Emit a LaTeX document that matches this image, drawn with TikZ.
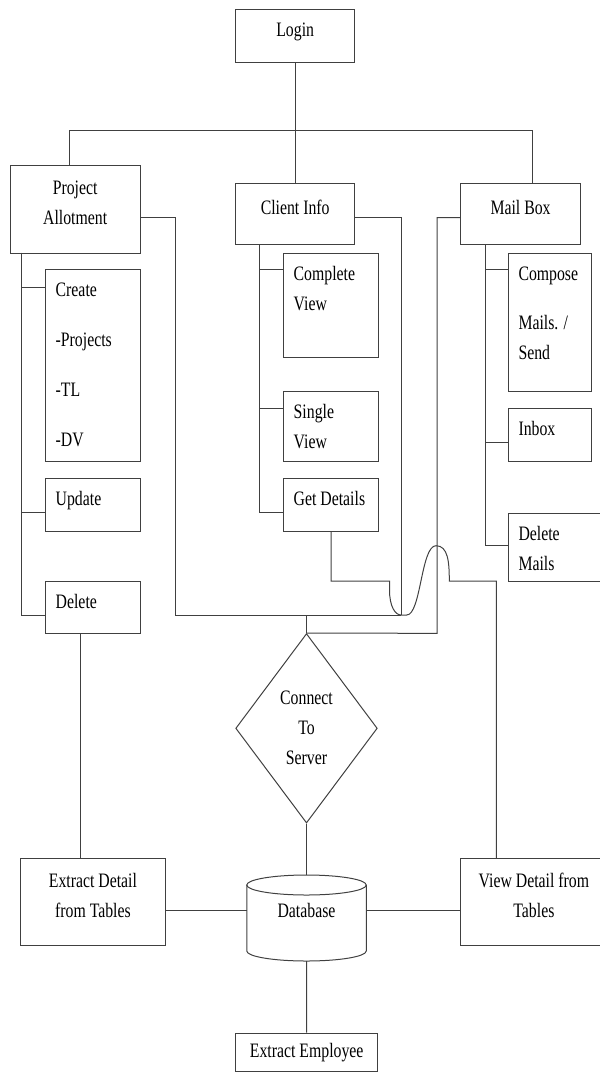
\documentclass[tikz,border=0pt]{standalone}
\usepackage{fontspec}
\setmainfont{Liberation Serif}[FakeStretch=0.77]
\usetikzlibrary{shapes.geometric}
\newcommand{\subtxt}[3]{\parbox[c][#1][t]{#2}{\raggedright\rule{0pt}{27pt}#3}}
\begin{document}
\begin{tikzpicture}[x=1pt,y=-1pt,
  font=\fontsize{20.5pt}{30pt}\selectfont,
  ln/.style={draw=black!75,line width=1pt},
  cbase/.style={ln,rectangle,inner sep=0pt,align=center,anchor=north west},
  cbox/.style={cbase,text depth=13pt},
  sbox/.style={ln,rectangle,inner xsep=10pt,inner ysep=0pt,anchor=north west},
  dec/.style={ln,diamond,aspect=0.75,inner sep=0pt,align=center}]
\useasboundingbox (0,0) rectangle (600,1072);
\clip (0,0) rectangle (600,1072);

% main boxes
\node[cbox,minimum width=118.6pt,minimum height=52.4pt] (login) at (235.4,9.3) {Login};
\node[cbox,minimum width=130.1pt,minimum height=87.7pt] (pa) at (9.6,165) {Project\\Allotment};
\node[cbox,minimum width=118.6pt,minimum height=61.6pt] (ci) at (235.4,182.7) {Client Info};
\node[cbox,minimum width=119.4pt,minimum height=61.6pt] (mb) at (460.4,182.7) {Mail Box};

% sub boxes
\node[sbox] (create) at (45.2,269.3) {\subtxt{191.4pt}{74.5pt}{Create\\[20pt]-Projects\\[20pt]-TL\\[20pt]-DV}};
\node[sbox] (update) at (45.2,478.3) {\subtxt{52.4pt}{74.5pt}{Update}};
\node[sbox] (del) at (45.2,581) {\subtxt{52.3pt}{74.5pt}{Delete}};
\node[sbox] (cv) at (283.2,252.7) {\subtxt{104.6pt}{74.8pt}{Complete\\View}};
\node[sbox] (sv) at (283.2,391) {\subtxt{69.7pt}{74.8pt}{Single\\View}};
\node[sbox] (gd) at (283.2,478.3) {\subtxt{52.4pt}{74.8pt}{Get Details}};
\node[sbox] (comp) at (508,252.7) {\subtxt{138.3pt}{63.3pt}{Compose\\[19pt]Mails. /\\Send}};
\node[sbox] (inbox) at (508,408.3) {\subtxt{52.4pt}{63.3pt}{Inbox}};
\node[sbox] (dm) at (508,512.7) {\subtxt{68.3pt}{80pt}{Delete\\Mails}};

% lower part
\node[dec,minimum width=141.6pt,minimum height=189.4pt] (cs) at (306.5,728.3) {Connect\\To\\Server};
\node[minimum width=119.5pt,minimum height=71.4pt,inner sep=0pt] (db) at (306.5,910.7) {Database};
\node[cbox,minimum width=144.3pt,minimum height=86.7pt] (ed) at (20.3,858.3) {Extract Detail\\from Tables};
\node[cbox,minimum width=146pt,minimum height=86.7pt] (vd) at (460.4,858.3) {View Detail from\\Tables};
\node[cbase,minimum width=141.6pt,minimum height=37.8pt] (ee) at (235.4,1032.7) {Extract Employee};

% database cylinder
\draw[ln] (306.5,885) ellipse [x radius=59.75pt, y radius=10pt];
\draw[ln] (246.75,885) -- (246.75,951) arc[start angle=180,end angle=360,x radius=59.75pt,y radius=10pt] -- (366.25,885);

% top bus
\coordinate (busL) at (69,130.7);
\coordinate (busR) at (532,130.7);
\draw[ln] (login.south) -- (login.south |- busL);
\draw[ln] (pa.north -| busL) -- (busL) -- (busR) -- (mb.north -| busR);
\draw[ln] (login.south |- busL) -- (ci.north);

% trunks and branches
\coordinate (paT) at (21,252.7);
\coordinate (paE) at (21,615);
\draw[ln] (paT) -- (paE);
\draw[ln] (paT |- 0,287.3) -- (create.west |- 0,287.3);
\draw[ln] (paT |- 0,512.7) -- (update.west |- 0,512.7);
\draw[ln] (paE) -- (del.west |- paE);
\coordinate (ciT) at (259,244.3);
\coordinate (ciE) at (259,512.7);
\draw[ln] (ciT) -- (ciE);
\draw[ln] (ciT |- 0,269.3) -- (cv.west |- 0,269.3);
\draw[ln] (ciT |- 0,408.3) -- (sv.west |- 0,408.3);
\draw[ln] (ciE) -- (gd.west |- ciE);
\coordinate (mbT) at (485.3,244.3);
\coordinate (mbE) at (485.3,545);
\draw[ln] (mbT) -- (mbE);
\draw[ln] (mbT |- 0,269.3) -- (comp.west |- 0,269.3);
\draw[ln] (mbT |- 0,442.3) -- (inbox.west |- 0,442.3);
\draw[ln] (mbE) -- (dm.west |- mbE);

% long connectors
\coordinate (j1) at (175.3,615);
\coordinate (ciB) at (401,615);
\coordinate (mbB) at (437,633.3);
\draw[ln] ([yshift=-8.4pt]pa.east) -| (j1) -- (ciB);
\draw[ln] ([yshift=-3.8pt]ci.east) -| (ciB);
\draw[ln] ([yshift=-3.5pt]mb.west) -| (mbB) -- (cs.north);
\draw[ln] (cs.north |- ciB) -- (cs.north);
\draw[ln] (cs.south) -- (db.north);

\coordinate (dbB) at (306.5,961);
\draw[ln] (dbB) -- (ee.north);
\draw[ln] (ed.east |- db.west) -- (db.west);
\draw[ln] (db.east) -- (vd.west |- db.east);
\draw[ln] (del.south -| 80.4,0) -- (ed.north -| 80.4,0);

\coordinate (vdT) at (496.4,858.3);
\draw[ln] (gd.south) -- (gd.south |- 0,581) -- (389.5,581) -- (389.5,590)
  .. controls (389.5,606) and (395,615) .. (ciB) -- (406.7,615)
  .. controls (421,615) and (421,545.7) .. (436,545.7)
  .. controls (448,545.7) and (449.3,562) .. (449.3,581)
  -- (vdT |- 0,581) -- (vdT);
\end{tikzpicture}
\end{document}
